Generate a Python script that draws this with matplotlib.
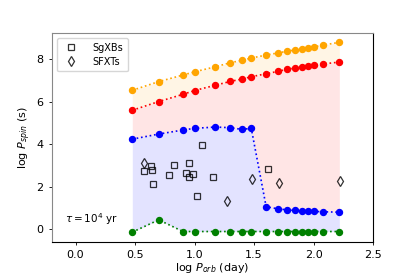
import numpy as np
import matplotlib
matplotlib.use('Agg')
import matplotlib.pyplot as plt

# orbital period grid (log days)
LOG_PORB = [0.477, 0.699, 0.903, 1.000, 1.176, 1.301, 1.398, 1.477, 1.602,
            1.699, 1.778, 1.845, 1.903, 1.954, 2.000, 2.079, 2.217]

# boundaries of the spin-period regions (log s)
ORANGE = [6.54, 6.95, 7.26, 7.41, 7.65, 7.84, 7.95, 8.06, 8.20,
          8.30, 8.38, 8.44, 8.50, 8.55, 8.58, 8.67, 8.80]
RED    = [5.60, 6.01, 6.35, 6.53, 6.78, 6.96, 7.07, 7.18, 7.32,
          7.43, 7.53, 7.59, 7.64, 7.69, 7.72, 7.78, 7.87]
BLUE   = [4.24, 4.48, 4.67, 4.75, 4.81, 4.78, 4.70, 4.75, 1.06,
          0.96, 0.91, 0.88, 0.86, 0.85, 0.84, 0.82, 0.80]
GREEN  = [-0.14, 0.44, -0.11, -0.11, -0.11, -0.11, -0.11, -0.11, -0.11,
          -0.11, -0.11, -0.11, -0.11, -0.11, -0.11, -0.11, -0.11]

# observed sources
SG_X = [1.066, 0.573, 0.632, 0.645, 0.651, 0.786, 0.830, 0.926, 0.954,
        0.956, 0.990, 1.021, 1.158, 1.620]
SG_Y = [3.97, 2.74, 2.98, 2.79, 2.15, 2.56, 3.04, 2.66, 3.13,
        2.45, 2.62, 1.58, 2.48, 2.84]
SF_X = [0.573, 1.271, 1.483, 1.713, 2.220]
SF_Y = [3.12, 1.32, 2.35, 2.16, 2.26]

FS = 8

fig = plt.figure(figsize=(4.15, 2.77), dpi=100)
ax = fig.add_axes([0.1246, 0.1274, 0.7742, 0.7535])

x = np.array(LOG_PORB)
ax.fill_between(x, RED, ORANGE, color='orange', alpha=0.1, lw=0)
ax.fill_between(x, BLUE, RED, color='red', alpha=0.1, lw=0)
ax.fill_between(x, GREEN, BLUE, color='blue', alpha=0.11, lw=0)

for y, c in [(ORANGE, 'orange'), (RED, 'red'), (BLUE, 'blue'), (GREEN, 'green')]:
    ax.plot(x, y, ':', color=c, marker='o', markersize=4.3, lw=1.2)

ax.plot(SG_X, SG_Y, 's', mfc='none', mec='k', mew=0.9, ms=4.3,
        alpha=0.8, ls='none', label='SgXBs')
ax.plot(SF_X, SF_Y, 'd', mfc='none', mec='k', mew=0.9, ms=4.6,
        alpha=0.8, ls='none', label='SFXTs')

ax.text(0.04, 0.07, r'$\tau = 10^4$ yr', transform=ax.transAxes,
        fontsize=FS - 0.5, va='bottom')

ax.set_xlim(-0.2, 2.5)
ax.set_ylim(-0.59, 9.24)
ax.set_xticks([0.0, 0.5, 1.0, 1.5, 2.0, 2.5])
ax.set_yticks([0, 2, 4, 6, 8])
ax.tick_params(labelsize=FS, length=2.5, width=0.6)
ax.set_xlabel(r'log $P_{orb}$ (day)', fontsize=FS, labelpad=1)
ax.set_ylabel(r'log $P_{spin}$ (s)', fontsize=FS, labelpad=2)

for s in ['top', 'left']:
    ax.spines[s].set_edgecolor('#888888')
for s in ax.spines.values():
    s.set_linewidth(0.8)

ax.legend(loc='upper left', fontsize=FS - 1, handletextpad=1.2,
          borderpad=0.5, labelspacing=0.4)

fig.savefig('out.png', dpi=100)
